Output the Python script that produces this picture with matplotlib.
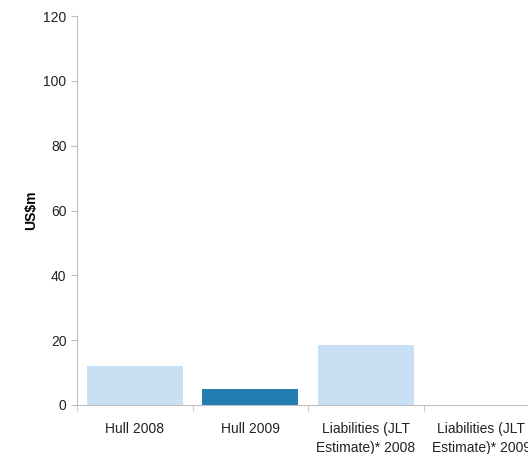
import numpy as np
import matplotlib.pyplot as plt

plt.rcParams['font.family'] = ['Liberation Sans', 'DejaVu Sans']

# data
categories = ['Hull 2008', 'Hull 2009', 'Liabilities (JLT\nEstimate)* 2008', 'Liabilities (JLT\nEstimate)* 2009']
values = [12.0, 4.9, 18.5, 0.0]
bar_colors = ['#C9DFF3', '#237DB0', '#C9DFF3', '#C9DFF3']
yticks = [0, 20, 40, 60, 80, 100, 120]

fig = plt.figure(figsize=(5.28, 4.54), dpi=100)
# axes run past the right edge of the figure, like the original crop
ax = fig.add_axes([77 / 528, 1 - 405 / 454, 462 / 528, 389 / 454])

x = np.arange(len(categories))
ax.bar(x, values, width=0.83, color=bar_colors)

ax.set_xlim(-0.5, len(categories) - 0.5)
ax.set_ylim(0, 120)
ax.set_yticks(yticks)
ax.set_xticks(x)
ax.set_xticklabels(categories, fontsize=10, color='#222222', linespacing=1.5)
ax.tick_params(axis='x', length=0, pad=12)
ax.tick_params(axis='y', labelsize=10, colors='#BFBFBF', labelcolor='#222222', length=4)

# category separator ticks
ax.set_xticks(np.arange(len(categories) + 1) - 0.5, minor=True)
ax.tick_params(axis='x', which='minor', length=4, color='#BFBFBF')

for side in ['top', 'right']:
    ax.spines[side].set_visible(False)
for side in ['left', 'bottom']:
    ax.spines[side].set_color('#BFBFBF')

ax.set_ylabel('US$m', fontsize=10, fontweight='bold', labelpad=4)

fig.savefig('out.png', dpi=100)
